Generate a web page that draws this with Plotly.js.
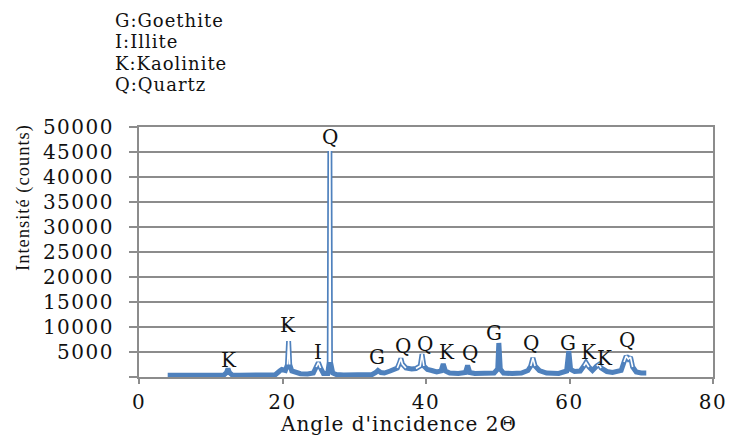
<!DOCTYPE html>
<html>
<head>
<meta charset="utf-8">
<script src="https://cdn.plot.ly/plotly-3.0.1.min.js"></script>
<style>
  html, body { margin: 0; padding: 0; background: #ffffff; }
  #chart { width: 729px; height: 436px; }
  .ytick text, .xtick text { letter-spacing: 1.5px; }
  .annotation-text { letter-spacing: 1px; }
</style>
</head>
<body>
<div id="chart"></div>
<script>
// 2-theta angles (degrees)
const angle = [4.0, 5, 6, 7, 8, 9, 10, 11, 11.8, 12.2, 12.4, 12.6, 13.0, 14, 15, 16, 17, 18, 19, 19.6, 19.9, 20.4, 20.7, 20.85, 21.0, 21.3, 21.8, 22.5, 23.5, 24.3, 24.7, 25.0, 25.3, 25.7, 26.3, 26.52, 26.6, 26.68, 27.0, 27.5, 28.5, 30, 31.5, 32.5, 33.0, 33.3, 33.7, 34.2, 35, 35.6, 36.0, 36.3, 36.5, 36.7, 37.2, 38, 38.6, 39.2, 39.45, 39.7, 40.2, 40.8, 41.5, 42.1, 42.4, 42.7, 43.3, 44.5, 45.5, 45.8, 46.1, 46.8, 48, 49.5, 50.0, 50.15, 50.35, 50.8, 52, 53.3, 54.2, 54.6, 54.9, 55.2, 55.8, 56.8, 58.5, 59.6, 59.9, 60.15, 60.7, 61.5, 62.0, 62.3, 62.7, 63.2, 63.8, 64.1, 64.4, 65.2, 66, 67.2, 67.6, 67.9, 68.2, 68.5, 68.8, 69.3, 70, 70.7];
// intensity (counts)
const counts = [350, 380, 360, 350, 340, 330, 320, 320, 350, 900, 1700, 900, 380, 330, 320, 300, 300, 320, 450, 1200, 1500, 1300, 2500, 7200, 2500, 1200, 900, 650, 600, 800, 2000, 2900, 1800, 700, 700, 3000, 45200, 3000, 800, 500, 400, 380, 400, 500, 900, 1300, 900, 800, 1200, 1600, 1800, 2800, 3700, 2600, 1800, 1600, 1700, 2200, 4600, 2200, 1500, 1300, 1000, 1200, 2600, 1200, 800, 700, 900, 2300, 900, 700, 650, 800, 1600, 6800, 1600, 800, 700, 800, 1300, 2200, 3800, 2200, 1300, 800, 700, 1200, 5200, 1500, 1100, 1200, 2200, 2900, 2000, 1300, 2200, 2500, 1800, 1100, 900, 1300, 3000, 4200, 3600, 4000, 2000, 1000, 800, 800];

// peak labels
const peakLabels = ['K', 'K', 'I', 'Q', 'G', 'Q', 'Q', 'K', 'Q', 'G', 'Q', 'G', 'K', 'K', 'Q'];
const peakAngle = [12.6, 20.8, 25.0, 26.7, 33.3, 36.9, 39.9, 42.9, 46.2, 49.5, 54.7, 59.9, 62.7, 65.0, 68.1];
const peakCount = [3400, 10400, 5000, 48000, 4000, 6200, 6600, 5000, 4800, 8800, 6800, 6800, 5000, 3800, 7400];

// phase legend
const legendLines = ['G:Goethite', 'I:Illite', 'K:Kaolinite', 'Q:Quartz'];

// y ticks
const yTickVals = [0, 5000, 10000, 15000, 20000, 25000, 30000, 35000, 40000, 45000, 50000];
const yTickText = ['', '5000', '10000', '15000', '20000', '25000', '30000', '35000', '40000', '45000', '50000'];
const xTickVals = [0, 20, 40, 60, 80];

const blue = '#4f81bd';
const serif = 'DejaVu Serif, Liberation Serif, serif';
const txt = '#111111';
const grey = '#8c8c8c';

const innerY = counts.map(v => (v >= 1700 ? v : null));

const traces = [
  { x: angle, y: counts, type: 'scatter', mode: 'lines',
    line: { color: blue, width: 5 }, hoverinfo: 'skip', showlegend: false },
  { x: angle, y: innerY, type: 'scatter', mode: 'lines', connectgaps: false,
    line: { color: '#ffffff', width: 1.6 }, hoverinfo: 'skip', showlegend: false }
];

const annotations = [];
peakLabels.forEach((t, i) => {
  annotations.push({ x: peakAngle[i], y: peakCount[i], xref: 'x', yref: 'y', text: t,
    showarrow: false, xanchor: 'center', yanchor: 'middle',
    font: { family: serif, size: 20, color: txt } });
});
legendLines.forEach((t, i) => {
  annotations.push({ x: 113, y: 20 + i * 21.6, xref: 'paper', yref: 'paper', text: t,
    showarrow: false, xanchor: 'left', yanchor: 'middle',
    font: { family: serif, size: 18, color: txt } });
});

const layout = {
  width: 729, height: 436,
  paper_bgcolor: '#ffffff', plot_bgcolor: '#ffffff',
  margin: { l: 139, r: 16, t: 127, b: 59, pad: 0 },
  showlegend: false,
  font: { family: serif, size: 18, color: txt },
  xaxis: {
    range: [0, 80], tickmode: 'array', tickvals: xTickVals,
    showgrid: false, zeroline: false,
    showline: true, linecolor: grey, linewidth: 2, mirror: true,
    ticks: 'outside', ticklen: 5, tickwidth: 2, tickcolor: grey,
    tickfont: { family: serif, size: 20, color: txt }, ticklabelstandoff: 1
  },
  yaxis: {
    range: [0, 50000], tickmode: 'array', tickvals: yTickVals, ticktext: yTickText,
    showgrid: true, gridcolor: grey, gridwidth: 2, zeroline: false,
    showline: true, linecolor: grey, linewidth: 2, mirror: true,
    ticks: 'outside', ticklen: 8, tickwidth: 2, tickcolor: grey,
    tickfont: { family: serif, size: 20, color: txt }, ticklabelstandoff: 11
  },
  annotations: annotations
};

// convert legend positions from pixels to paper coords
const plotW = 729 - 139 - 16, plotH = 436 - 127 - 59;
layout.annotations.forEach(a => {
  if (a.xref === 'paper') {
    a.x = (a.x - 139) / plotW;
    a.y = (436 - 59 - a.y) / plotH;
  }
});
layout.annotations.push({
  x: (23 - 139) / plotW, y: (377 - 198) / plotH, xref: 'paper', yref: 'paper',
  text: 'Intensité (counts)', textangle: -90, showarrow: false,
  xanchor: 'center', yanchor: 'middle',
  font: { family: 'Liberation Serif, serif', size: 18.5, color: txt }
});
layout.annotations.push({
  x: (398 - 139) / plotW, y: (377 - 424) / plotH, xref: 'paper', yref: 'paper',
  text: "Angle d'incidence 2Θ", showarrow: false,
  xanchor: 'center', yanchor: 'middle',
  font: { family: serif, size: 20, color: txt }
});

Plotly.newPlot('chart', traces, layout, { displayModeBar: false, staticPlot: true });
</script>
</body>
</html>
